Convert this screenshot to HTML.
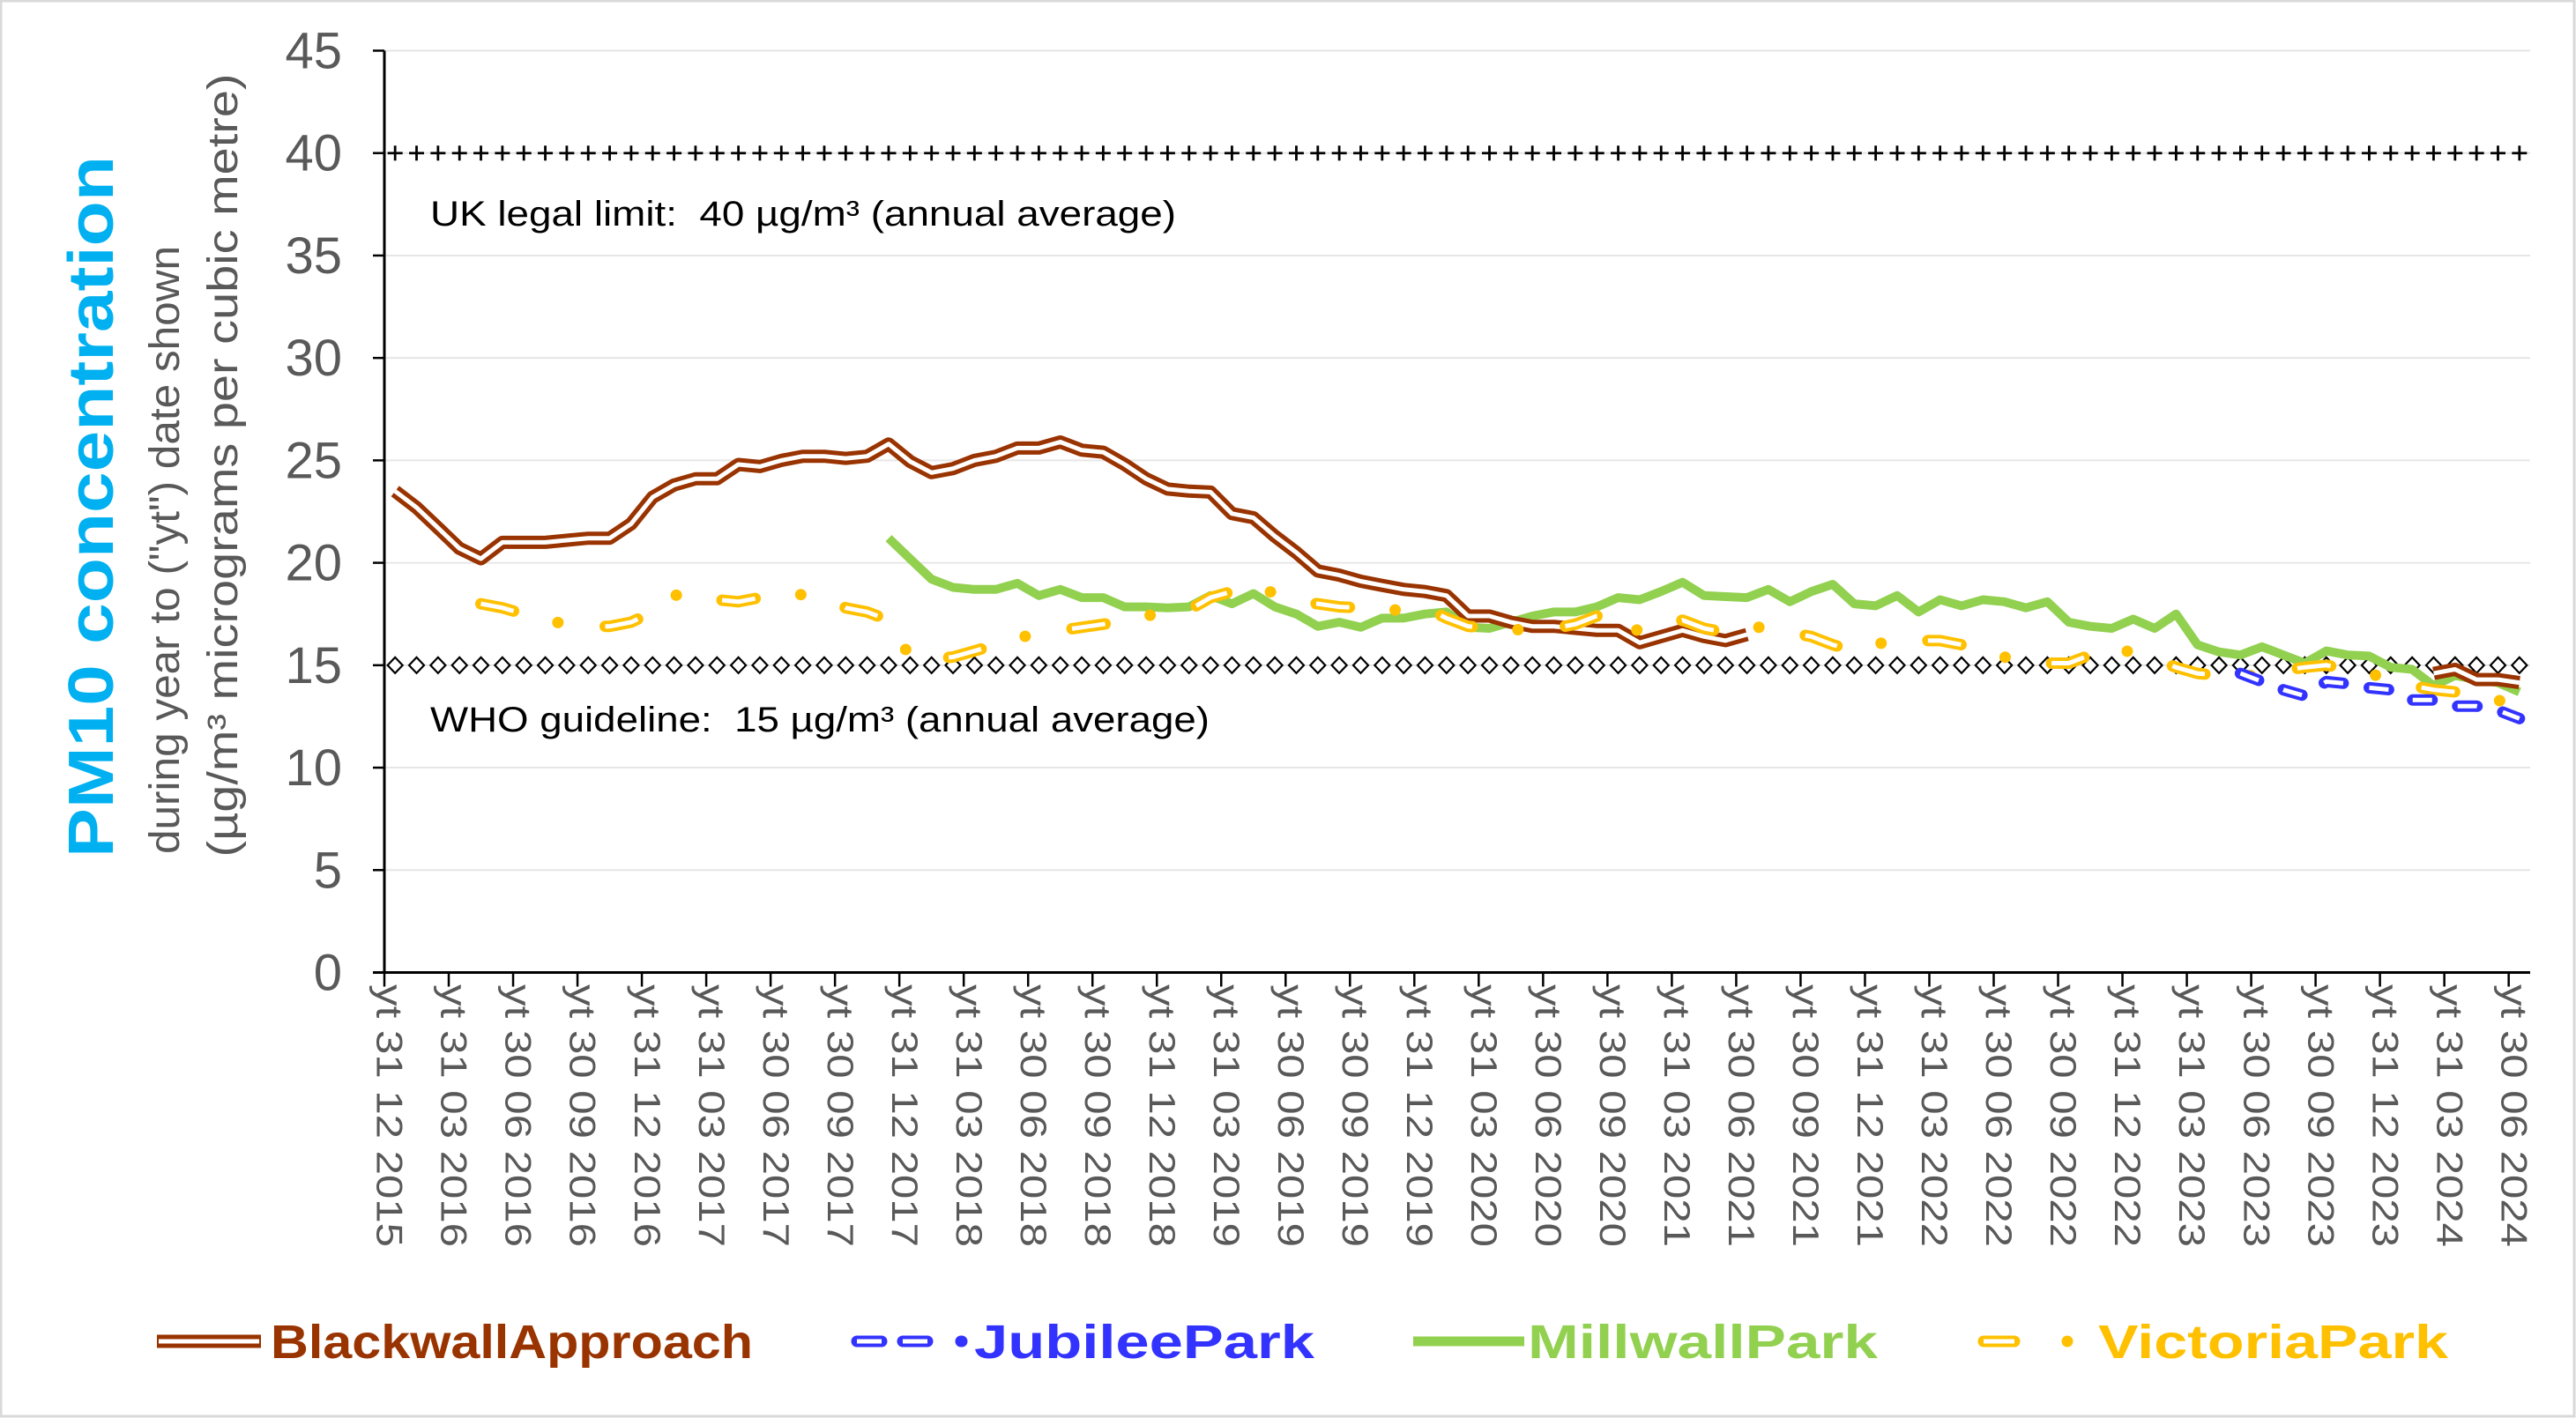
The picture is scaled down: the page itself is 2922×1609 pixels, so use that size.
<!DOCTYPE html>
<html><head><meta charset="utf-8">
<style>
html,body{margin:0;padding:0;background:#fff;}
svg{display:block;font-family:"Liberation Sans",Arial,sans-serif;}
</style></head>
<body>
<svg id="chart" width="2922" height="1609" viewBox="0 0 2922 1609" xmlns="http://www.w3.org/2000/svg">
<rect x="1" y="1" width="2919" height="1606" fill="#fff" stroke="#D9D9D9" stroke-width="3"/>
<g id="grid"></g>
<g id="refs"></g>
<g id="series"></g>
<g id="axes"></g>
<text x="488" y="256" font-size="40" textLength="846" lengthAdjust="spacingAndGlyphs" fill="#000">UK legal limit:&#160; 40 µg/m³ (annual average)</text>
<text x="488" y="830" font-size="40" textLength="884" lengthAdjust="spacingAndGlyphs" fill="#000">WHO guideline:&#160; 15 µg/m³ (annual average)</text>
<g>
<text transform="translate(128,575) rotate(-90)" text-anchor="middle" font-size="72" font-weight="bold" fill="#00B0F0" textLength="796" lengthAdjust="spacingAndGlyphs">PM10 concentration</text>
<text transform="translate(203,624) rotate(-90)" text-anchor="middle" font-size="48" fill="#595959" textLength="690" lengthAdjust="spacingAndGlyphs">during year to ("yt") date shown</text>
<text transform="translate(269,528) rotate(-90)" text-anchor="middle" font-size="48" fill="#595959" textLength="889" lengthAdjust="spacingAndGlyphs">(µg/m³ micrograms per cubic metre)</text>
</g>
<g id="legend">
<g>
<line x1="178" y1="1522" x2="296" y2="1522" stroke="#993300" stroke-width="15"/>
<line x1="180" y1="1522" x2="294" y2="1522" stroke="#fff" stroke-width="5"/>
<text x="307" y="1541" font-size="54" font-weight="bold" fill="#993300" textLength="547" lengthAdjust="spacingAndGlyphs">BlackwallApproach</text>
</g>
<g>
<path d="M972 1522 H1000 M1024 1522 H1052 M1090 1522 H1091" stroke="#3333FF" stroke-width="13" stroke-linecap="round" fill="none"/>
<path d="M972 1522 H1000 M1024 1522 H1052" stroke="#fff" stroke-width="5" fill="none"/>
<text x="1105" y="1541" font-size="54" font-weight="bold" fill="#3333FF" textLength="386" lengthAdjust="spacingAndGlyphs">JubileePark</text>
</g>
<g>
<line x1="1603" y1="1522" x2="1729" y2="1522" stroke="#92D050" stroke-width="11"/>
<text x="1733" y="1541" font-size="54" font-weight="bold" fill="#92D050" textLength="397" lengthAdjust="spacingAndGlyphs">MillwallPark</text>
</g>
<g>
<path d="M2250 1522 H2285" stroke="#FFC000" stroke-width="13" stroke-linecap="round" fill="none"/>
<path d="M2250 1522 H2285" stroke="#fff" stroke-width="5" fill="none"/>
<circle cx="2345" cy="1522" r="6.5" fill="#FFC000"/>
<text x="2380" y="1541" font-size="54" font-weight="bold" fill="#FFC000" textLength="397" lengthAdjust="spacingAndGlyphs">VictoriaPark</text>
</g>
</g>
</svg>
<script>
const tickLabels = ["yt 31 12 2015","yt 31 03 2016","yt 30 06 2016","yt 30 09 2016","yt 31 12 2016","yt 31 03 2017","yt 30 06 2017","yt 30 09 2017","yt 31 12 2017","yt 31 03 2018","yt 30 06 2018","yt 30 09 2018","yt 31 12 2018","yt 31 03 2019","yt 30 06 2019","yt 30 09 2019","yt 31 12 2019","yt 31 03 2020","yt 30 06 2020","yt 30 09 2020","yt 31 03 2021","yt 30 06 2021","yt 30 09 2021","yt 31 12 2021","yt 31 03 2022","yt 30 06 2022","yt 30 09 2022","yt 31 12 2022","yt 31 03 2023","yt 30 06 2023","yt 30 09 2023","yt 31 12 2023","yt 31 03 2024","yt 30 06 2024"];
const yTicks = [0,5,10,15,20,25,30,35,40,45];
const ukLimit = 40;
const whoGuideline = 15;
const blackwall = [23.5,22.7,21.7,20.7,20.2,21.0,21.0,21.0,21.1,21.2,21.2,21.9,23.2,23.8,24.1,24.1,24.8,24.7,25.0,25.2,25.2,25.1,25.2,25.8,24.95,24.4,24.6,25.0,25.2,25.6,25.6,25.9,25.5,25.4,24.8,24.1,23.6,23.5,23.45,22.4,22.2,21.3,20.5,19.6,19.4,19.1,18.9,18.7,18.6,18.4,17.4,17.4,17.1,16.9,16.9,16.8,16.7,16.7,16.1,16.4,16.7,16.4,16.2,16.5,null,null,null,null,null,null,null,null,null,null,null,null,null,null,null,null,null,null,null,null,null,null,null,null,null,null,null,null,null,null,null,14.6,14.8,14.3,14.3,14.15];
const jubilee = [null,null,null,null,null,null,null,null,null,null,null,null,null,null,null,null,null,null,null,null,null,null,null,null,null,null,null,null,null,null,null,null,null,null,null,null,null,null,null,null,null,null,null,null,null,null,null,null,null,null,null,null,null,null,null,null,null,null,null,null,null,null,null,null,null,null,null,null,null,null,null,null,null,null,null,null,null,null,null,null,null,null,null,null,null,null,14.6,14.2,13.8,13.5,14.2,14.1,13.9,13.8,13.3,13.3,13.0,13.0,12.8,12.4];
const millwall = [null,null,null,null,null,null,null,null,null,null,null,null,null,null,null,null,null,null,null,null,null,null,null,21.2,20.2,19.2,18.8,18.7,18.7,19.0,18.4,18.7,18.3,18.3,17.85,17.85,17.8,17.85,18.4,18.0,18.5,17.85,17.5,16.9,17.1,16.85,17.3,17.3,17.5,17.6,16.85,16.8,17.1,17.4,17.6,17.6,17.85,18.3,18.2,18.6,19.05,18.4,18.35,18.3,18.7,18.1,18.6,18.95,18.0,17.9,18.4,17.6,18.2,17.9,18.2,18.1,17.8,18.1,17.1,16.9,16.8,17.25,16.8,17.5,16.0,15.65,15.5,15.9,15.5,15.1,15.7,15.5,15.45,14.9,14.8,14.0,14.5,14.3,14.15,13.7];
const victoria = [null,null,null,null,18.0,17.8,17.5,17.2,17.0,16.9,16.9,17.1,17.6,18.4,18.6,18.2,18.1,18.3,18.4,18.45,18.4,17.8,17.6,17.2,15.4,15.3,15.4,15.7,16.0,16.3,16.6,16.7,16.85,17.0,17.15,17.4,17.6,17.7,18.3,18.6,18.9,18.5,18.1,18.0,17.85,17.8,17.7,17.7,17.8,17.3,16.9,16.8,16.7,16.8,16.8,17.0,17.4,17.5,16.6,16.9,17.2,16.8,16.6,16.8,16.9,16.6,16.4,16.0,15.7,16.0,16.3,16.2,16.2,16.0,15.7,15.4,15.05,15.1,15.1,15.5,15.9,15.6,15.3,14.9,14.6,14.5,14.4,14.6,14.75,14.9,15.0,14.8,14.6,14.3,14.0,13.8,13.7,13.5,13.3,12.9];

const NS = "http://www.w3.org/2000/svg";
const PL = 436, PR = 2870, PT = 57.5, PB = 1103.5, YMAX = 45;
const N = millwall.length;
const step = (PR - PL) / N;
function xPos(i){ return PL + (i + 0.5) * step; }
function yPos(v){ return PB - (v / YMAX) * (PB - PT); }
function mk(tag, attrs, parent){
  const e = document.createElementNS(NS, tag);
  for (const k in attrs) e.setAttribute(k, attrs[k]);
  parent.appendChild(e);
  return e;
}
const grid = document.getElementById('grid');
const axes = document.getElementById('axes');
const refs = document.getElementById('refs');
const seriesG = document.getElementById('series');

yTicks.forEach(function(t){
  const y = yPos(t);
  if (t > 0) {
    const g = mk('line', {x1:PL, x2:PR, y1:y, y2:y, stroke:'#E6E6E6', 'stroke-width':2}, grid);
    
    
  }
  const tk = mk('line', {x1:PL-13, x2:PL, y1:y, y2:y, stroke:'#000', 'stroke-width':2.5}, axes);
  
  
  const lb = mk('text', {x:388, y:y+20, 'text-anchor':'end', 'font-size':58, fill:'#595959'}, axes);
  lb.textContent = t;
  
  
});
const yAxis = mk('line', {x1:PL, x2:PL, y1:PT, y2:PB, stroke:'#000', 'stroke-width':3}, axes);


const xAxis = mk('line', {x1:PL-13, x2:PR, y1:PB, y2:PB, stroke:'#000', 'stroke-width':3}, axes);



tickLabels.forEach(function(lbl, k){
  const i = k * 3;
  const tx = PL + i * step;
  const tk = mk('line', {x1:tx, x2:tx, y1:PB, y2:PB+16, stroke:'#000', 'stroke-width':2.5}, axes);
  
  
  const cx = xPos(i) - 6;
  const t = mk('text', {x:0, y:0, transform:'translate(' + cx + ',1117) rotate(90)', 'font-size':42, fill:'#595959', 'dominant-baseline':'central', textLength:298, lengthAdjust:'spacingAndGlyphs'}, axes);
  t.textContent = lbl;
  
  
});

for (let i = 0; i < N; i++) {
  const x = xPos(i), yu = yPos(ukLimit), yw = yPos(whoGuideline);
  const p = mk('path', {d:'M'+(x-8.5)+' '+yu+' H'+(x+8.5)+' M'+x+' '+(yu-8.5)+' V'+(yu+8.5), stroke:'#000', 'stroke-width':2.8, fill:'none'}, refs);
  
  
  const d = mk('path', {d:'M'+(x-8.5)+' '+yw+' L'+x+' '+(yw-9)+' L'+(x+8.5)+' '+yw+' L'+x+' '+(yw+9)+' Z', stroke:'#000', 'stroke-width':2.2, fill:'#fff'}, refs);
  
  
}

function pathD(arr){
  let d = '', pen = false;
  arr.forEach(function(v, i){
    if (v === null || v === undefined) { pen = false; return; }
    d += (pen ? ' L' : ' M') + xPos(i).toFixed(1) + ' ' + yPos(v).toFixed(1);
    pen = true;
  });
  return d;
}

const mw = mk('path', {d:pathD(millwall), stroke:'#92D050', 'stroke-width':10, fill:'none', 'stroke-linejoin':'round'}, seriesG);


const bw = mk('path', {d:pathD(blackwall), stroke:'#993300', 'stroke-width':15, fill:'none', 'stroke-linejoin':'round'}, seriesG);


const bwi = mk('path', {d:pathD(blackwall), stroke:'#fff', 'stroke-width':5, fill:'none', 'stroke-linejoin':'round'}, seriesG);


const vo = mk('path', {d:pathD(victoria), stroke:'#FFC000', 'stroke-width':13, fill:'none', 'stroke-linecap':'round', 'stroke-linejoin':'round', 'stroke-dasharray':'38 52 0 54'}, seriesG);


const vi = mk('path', {d:pathD(victoria), stroke:'#fff', 'stroke-width':5, fill:'none', 'stroke-dasharray':'38 106'}, seriesG);


const jo = mk('path', {d:pathD(jubilee), stroke:'#3333FF', 'stroke-width':13, fill:'none', 'stroke-linecap':'round', 'stroke-linejoin':'round', 'stroke-dasharray':'22 30'}, seriesG);


const ji = mk('path', {d:pathD(jubilee), stroke:'#fff', 'stroke-width':5, fill:'none', 'stroke-dasharray':'22 30'}, seriesG);


</script>
</body></html>
